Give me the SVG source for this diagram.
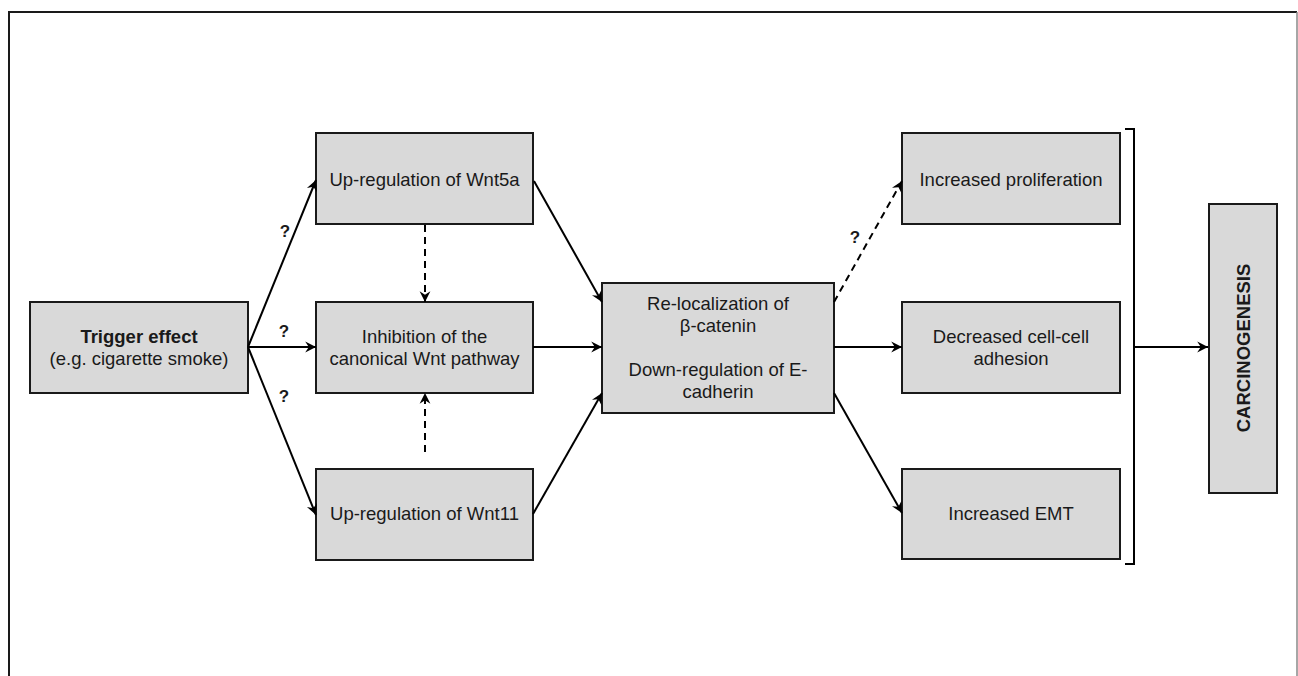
<svg xmlns="http://www.w3.org/2000/svg" width="1298" height="676" viewBox="0 0 1298 676">
<defs>
<marker id="ah" viewBox="0 0 10 10" refX="9" refY="5" markerWidth="12" markerHeight="12" markerUnits="userSpaceOnUse" orient="auto">
<path d="M0,0.5 L9,5 L0,9.5 L3,5 Z" fill="#000"/>
</marker>
<style>
.box{fill:#d9d9d9;stroke:#1a1a1a;stroke-width:2}
.t{font-family:"Liberation Sans",Arial,sans-serif;font-size:18.5px;fill:#1a1a1a;text-anchor:middle}
.b{font-weight:bold}
.q{font-family:"Liberation Sans",Arial,sans-serif;font-size:17px;font-weight:bold;fill:#1a1a1a;text-anchor:middle}
.c{stroke:#000;stroke-width:2;fill:none;marker-end:url(#ah)}
.d{stroke-dasharray:7,5}
</style>
</defs>
<rect width="1298" height="676" fill="#fff"/>
<path d="M9,676 L9,12 L1297,12" fill="none" stroke="#1a1a1a" stroke-width="2"/>
<path d="M1297,12 L1297,676" stroke="#888" stroke-width="1.5"/>

<g id="trigger">
<rect class="box" x="30" y="302" width="218" height="91"/>
<text class="t b" x="139" y="343">Trigger effect</text>
<text class="t" x="139" y="365">(e.g. cigarette smoke)</text>
</g>
<g id="wnt5a">
<rect class="box" x="316" y="133" width="217" height="91"/>
<text class="t" x="424.5" y="186">Up-regulation of Wnt5a</text>
</g>
<g id="inhibition">
<rect class="box" x="316" y="302" width="217" height="91"/>
<text class="t" x="424.5" y="343">Inhibition of the</text>
<text class="t" x="424.5" y="365">canonical Wnt pathway</text>
</g>
<g id="wnt11">
<rect class="box" x="316" y="469" width="217" height="91"/>
<text class="t" x="424.5" y="520">Up-regulation of Wnt11</text>
</g>
<g id="central">
<rect class="box" x="602" y="283" width="232" height="130"/>
<text class="t" x="718" y="310">Re-localization of</text>
<text class="t" x="718" y="332">β-catenin</text>
<text class="t" x="718" y="376">Down-regulation of E-</text>
<text class="t" x="718" y="398">cadherin</text>
</g>
<g id="proliferation">
<rect class="box" x="902" y="133" width="218" height="91"/>
<text class="t" x="1011" y="186">Increased proliferation</text>
</g>
<g id="adhesion">
<rect class="box" x="902" y="302" width="218" height="91"/>
<text class="t" x="1011" y="343">Decreased cell-cell</text>
<text class="t" x="1011" y="365">adhesion</text>
</g>
<g id="emt">
<rect class="box" x="902" y="469" width="218" height="90"/>
<text class="t" x="1011" y="520">Increased EMT</text>
</g>
<g id="carcinogenesis">
<rect class="box" x="1209" y="204" width="68" height="289"/>
<text class="t b" transform="translate(1250,348) rotate(-90)" x="0" y="0">CARCINOGENESIS</text>
</g>

<g id="connectors">
<line class="c" x1="248" y1="347" x2="316" y2="180"/>
<line class="c" x1="248" y1="347" x2="316" y2="347"/>
<line class="c" x1="248" y1="347" x2="316" y2="515"/>
<line class="c" x1="534" y1="181" x2="602" y2="302"/>
<line class="c" x1="533" y1="347" x2="602" y2="347"/>
<line class="c" x1="533" y1="514" x2="602" y2="393"/>
<line class="c d" x1="425" y1="225" x2="425" y2="302"/>
<line class="c d" x1="425" y1="452" x2="425" y2="393"/>
<line class="c d" x1="834" y1="302" x2="902" y2="181"/>
<line class="c" x1="834" y1="347" x2="902" y2="347"/>
<line class="c" x1="834" y1="393" x2="902" y2="513"/>
<path d="M1125,129 L1134,129 L1134,564 L1125,564" fill="none" stroke="#000" stroke-width="2"/>
<line class="c" x1="1134" y1="347" x2="1208" y2="347"/>
<text class="q" x="285" y="237">?</text>
<text class="q" x="284" y="337">?</text>
<text class="q" x="284" y="402">?</text>
<text class="q" x="855" y="243">?</text>
</g>
</svg>
